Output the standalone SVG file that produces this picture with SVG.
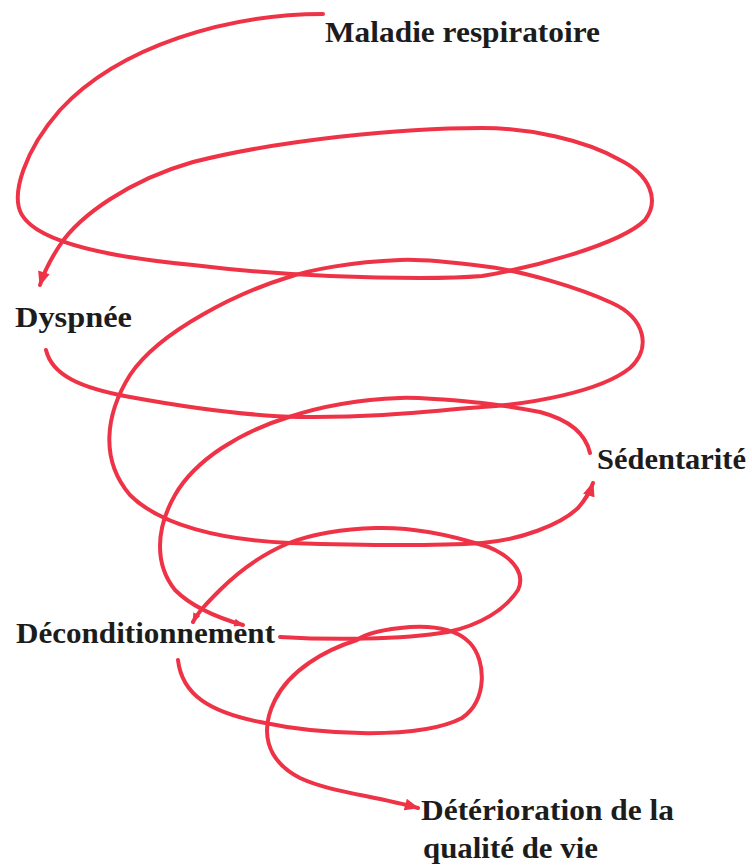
<svg xmlns="http://www.w3.org/2000/svg" width="752" height="867" viewBox="0 0 752 867">
<style>
.lbl{font-family:"Liberation Serif","Times New Roman",serif;font-weight:bold;font-size:30px;fill:#1c1c1c}
.c{fill:none;stroke:#ef3347;stroke-width:4;stroke-linecap:round;stroke-linejoin:round}
</style>
<defs>
<marker id="ah" viewBox="0 0 12 10" refX="11" refY="5" markerWidth="15" markerHeight="12" markerUnits="userSpaceOnUse" orient="auto">
<path d="M0,0 L12,5 L0,10 z" fill="#ef3347"/>
</marker>
<marker id="ahs" viewBox="0 0 12 10" refX="11" refY="5" markerWidth="10" markerHeight="8" markerUnits="userSpaceOnUse" orient="auto">
<path d="M0,0 L12,5 L0,10 z" fill="#ef3347"/>
</marker>
</defs>
<rect width="752" height="867" fill="#ffffff"/>
<g id="connectors">
<path class="c" marker-end="url(#ah)" d="M323,14 C230,14 120,45 60,110 C25,150 10,195 22,215 C40,245 120,258 193,265 C250,272 330,278 420,278 C450,278 470,277 482,276 C530,268 620,245 645,220 C660,200 650,175 620,160 C585,140 530,128 482,128 C400,128 280,140 193,162 C130,180 80,215 60,245 C50,260 44,272 40,285"/>
<path class="c" marker-end="url(#ah)" d="M46,350 C52,375 80,388 130,397 C190,408 250,416 300,417 C380,418 440,410 482,407 C530,404 600,392 630,368 C652,348 645,318 612,303 C580,288 520,270 482,266 C450,262 420,259 400,260 C350,262 310,270 289,277 C240,292 160,330 130,375 C105,415 100,460 130,495 C160,525 220,540 290,543 C380,546 450,545 482,543 C520,540 560,525 578,508 C585,500 590,492 593,483"/>
<path class="c" marker-end="url(#ahs)" d="M590,453 C586,435 570,420 540,412 C520,408 500,405 482,403 C450,400 420,397 400,398 C350,400 310,410 289,417 C240,432 195,460 175,495 C155,530 155,565 175,590 C190,605 215,617 243,625"/>
<path class="c" marker-end="url(#ahs)" d="M280,637 C330,640 400,640 448,632 C480,625 505,610 518,590 C525,575 515,560 495,550 C490,547 486,546 482,545 C450,535 410,527 376,528 C340,529 310,535 289,543 C265,553 240,570 220,590 C208,602 198,612 193,622"/>
<path class="c" marker-end="url(#ah)" d="M178,660 C182,695 210,712 260,722 C320,735 420,740 462,718 C488,700 486,660 470,643 C460,632 440,625 410,627 C385,629 365,634 357,640 C325,650 290,670 275,700 C260,730 265,760 300,778 C330,792 370,795 418,808"/>
</g>
<g id="maladie"><text class="lbl" x="325" y="42" textLength="275" lengthAdjust="spacingAndGlyphs">Maladie respiratoire</text></g>
<g id="dyspnee"><text class="lbl" x="15" y="327" textLength="117" lengthAdjust="spacingAndGlyphs">Dyspnée</text></g>
<g id="sedentarite"><text class="lbl" x="597" y="469" textLength="149" lengthAdjust="spacingAndGlyphs">Sédentarité</text></g>
<g id="deconditionnement"><text class="lbl" x="16" y="643" textLength="259" lengthAdjust="spacingAndGlyphs">Déconditionnement</text></g>
<g id="deterioration"><text class="lbl" x="421" y="820" textLength="253" lengthAdjust="spacingAndGlyphs">Détérioration de la</text><text class="lbl" x="423" y="858" textLength="175" lengthAdjust="spacingAndGlyphs">qualité de vie</text></g>
</svg>
